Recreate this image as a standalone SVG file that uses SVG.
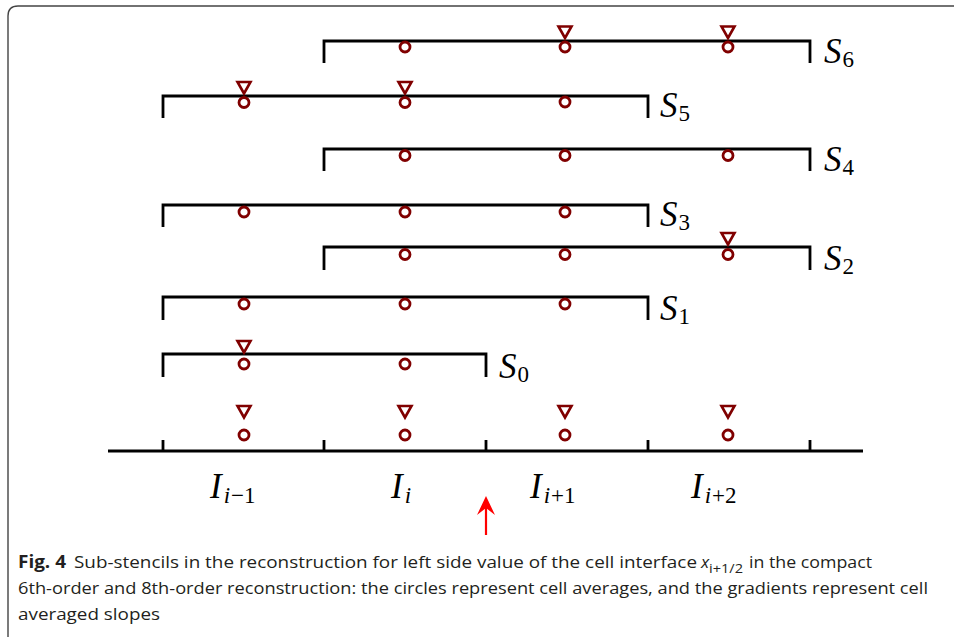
<svg xmlns="http://www.w3.org/2000/svg" xmlns:xlink="http://www.w3.org/1999/xlink" width="954" height="637" viewBox="0 0 954 637">
<style>
.ln{stroke:#000;stroke-width:2.8;fill:none}
.c{fill:#fff;stroke:#800000;stroke-width:2.8}
.t{fill:#fff;stroke:#800000;stroke-width:2.6;stroke-linejoin:miter}
.lab{font-family:"Liberation Serif","DejaVu Serif",serif;font-style:italic;font-size:35px;fill:#000}
.sub{font-size:23px;font-style:normal}
.subi{font-size:23px;font-style:italic}
.cap{font-family:"Open Sans","DejaVu Sans",sans-serif;font-size:17px;fill:#231f20}
.frame{fill:none;stroke:#444;stroke-width:1.4}
</style>
<defs>
<circle id="o" r="5" class="c"/>
<path id="v" d="M-6.5,-5.5 H6.5 L0,6 Z" class="t"/>
</defs>
<path class="frame" d="M8,637 V16 Q8,6 18,6 H954"/>

<g id="axis">
<path class="ln" d="M108,451 H863 M163,451 V440 M324,451 V440 M486,451 V440 M648,451 V440 M810,451 V440"/>
<use xlink:href="#v" x="244" y="411.5"/><use xlink:href="#v" x="405" y="411.5"/><use xlink:href="#v" x="565" y="411.5"/><use xlink:href="#v" x="728" y="411.5"/>
<use xlink:href="#o" x="244" y="435"/><use xlink:href="#o" x="405" y="435"/><use xlink:href="#o" x="565" y="435"/><use xlink:href="#o" x="728" y="435"/>
<text class="lab" x="210" y="498">I<tspan class="subi" dy="5" dx="2">i</tspan><tspan class="sub" dx="1">−1</tspan></text>
<text class="lab" x="391" y="498">I<tspan class="subi" dy="5" dx="2">i</tspan></text>
<text class="lab" x="530" y="498">I<tspan class="subi" dy="5" dx="2">i</tspan><tspan class="sub" dx="1">+1</tspan></text>
<text class="lab" x="691" y="498">I<tspan class="subi" dy="5" dx="2">i</tspan><tspan class="sub" dx="1">+2</tspan></text>
</g>

<g id="S6">
<path class="ln" d="M324,63 V41 H810 V63"/>
<use xlink:href="#o" x="405" y="47"/><use xlink:href="#o" x="565" y="47"/><use xlink:href="#o" x="728" y="47"/>
<use xlink:href="#v" x="565" y="32"/><use xlink:href="#v" x="728" y="32"/>
<text class="lab" x="824" y="63">S<tspan class="sub" dy="4" dx="1">6</tspan></text>
</g>
<g id="S5">
<path class="ln" d="M163,118 V96 H648 V118"/>
<use xlink:href="#o" x="244" y="102.5"/><use xlink:href="#o" x="405" y="102.5"/><use xlink:href="#o" x="565" y="102"/>
<use xlink:href="#v" x="244" y="87.5"/><use xlink:href="#v" x="405" y="87.5"/>
<text class="lab" x="660" y="117">S<tspan class="sub" dy="4" dx="1">5</tspan></text>
</g>
<g id="S4">
<path class="ln" d="M324,171 V149 H810 V171"/>
<use xlink:href="#o" x="405" y="155.5"/><use xlink:href="#o" x="565" y="155.5"/><use xlink:href="#o" x="728" y="155.5"/>
<text class="lab" x="824" y="171">S<tspan class="sub" dy="4" dx="1">4</tspan></text>
</g>
<g id="S3">
<path class="ln" d="M163,227 V205 H648 V227"/>
<use xlink:href="#o" x="244" y="212"/><use xlink:href="#o" x="405" y="212"/><use xlink:href="#o" x="565" y="212"/>
<text class="lab" x="660" y="226">S<tspan class="sub" dy="4" dx="1">3</tspan></text>
</g>
<g id="S2">
<path class="ln" d="M324,270 V247 H810 V270"/>
<use xlink:href="#o" x="405" y="254.5"/><use xlink:href="#o" x="565" y="254.5"/><use xlink:href="#o" x="728" y="254.5"/>
<use xlink:href="#v" x="728" y="238.5"/>
<text class="lab" x="824" y="270">S<tspan class="sub" dy="4" dx="1">2</tspan></text>
</g>
<g id="S1">
<path class="ln" d="M163,320 V297 H648 V320"/>
<use xlink:href="#o" x="244" y="304"/><use xlink:href="#o" x="405" y="304"/><use xlink:href="#o" x="565" y="304"/>
<text class="lab" x="660" y="320">S<tspan class="sub" dy="4" dx="1">1</tspan></text>
</g>
<g id="S0">
<path class="ln" d="M163,377 V354 H486 V377"/>
<use xlink:href="#o" x="244" y="364"/><use xlink:href="#o" x="405" y="364"/>
<use xlink:href="#v" x="244" y="346.5"/>
<text class="lab" x="499" y="378">S<tspan class="sub" dy="4" dx="1">0</tspan></text>
</g>

<g id="connectors">
<path d="M486,535 V504" stroke="#ff0000" stroke-width="2.2" fill="none"/>
<path d="M486,496 L477,515 L486,508 L495,515 Z" fill="#ff0000"/>
</g>

<g id="caption" class="cap">
<text x="18" y="568" font-weight="bold" textLength="48" lengthAdjust="spacingAndGlyphs">Fig. 4</text>
<text x="74" y="568" textLength="623" lengthAdjust="spacingAndGlyphs">Sub-stencils in the reconstruction for left side value of the cell interface</text>
<text x="701" y="568" font-style="italic">x</text>
<text x="709" y="573" font-size="13" textLength="34" lengthAdjust="spacingAndGlyphs">i+1/2</text>
<text x="749" y="568" textLength="123" lengthAdjust="spacingAndGlyphs">in the compact</text>
<text x="18" y="594" textLength="910" lengthAdjust="spacingAndGlyphs">6th-order and 8th-order reconstruction: the circles represent cell averages, and the gradients represent cell</text>
<text x="18" y="620" textLength="142" lengthAdjust="spacingAndGlyphs">averaged slopes</text>
</g>
</svg>
